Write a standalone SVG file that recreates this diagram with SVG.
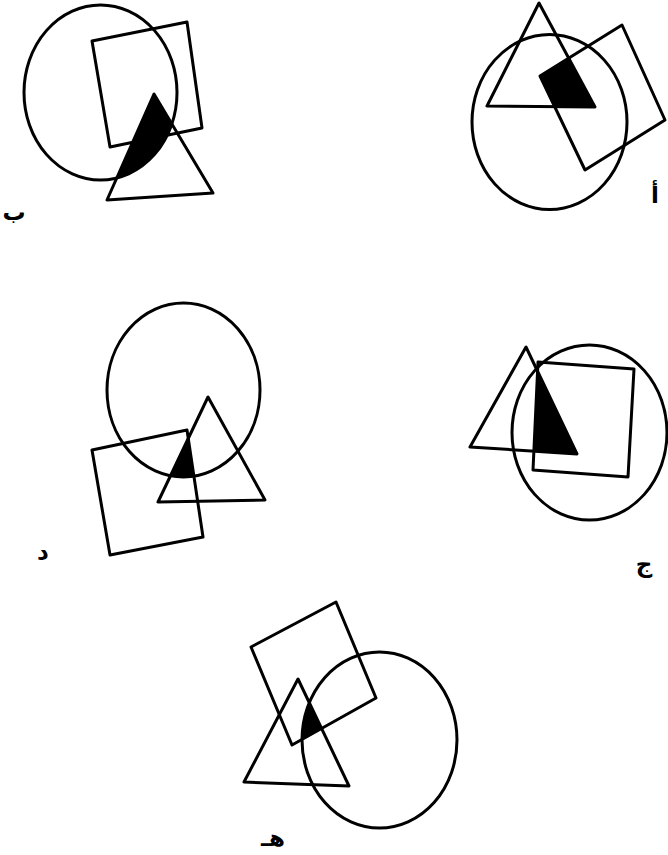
<svg xmlns="http://www.w3.org/2000/svg" width="668" height="855" viewBox="0 0 668 855">
<style>
.s{fill:none;stroke:#000;stroke-width:3;stroke-linejoin:round}
.f{fill:#000;stroke:none}
.l{font-family:"DejaVu Sans","Noto Sans",sans-serif;font-size:23px;font-weight:bold;fill:#000;text-anchor:middle}
</style>
<defs>
<clipPath id="a-sq"><polygon points="540,76 622,25 665,120 585,170"/></clipPath>
<clipPath id="a-ci"><ellipse cx="549.5" cy="122" rx="77.5" ry="87.5"/></clipPath>
<clipPath id="b-ci"><ellipse cx="100.5" cy="92.5" rx="76.5" ry="87.5"/></clipPath>
<clipPath id="c-sq"><polygon points="538,362 634,369 628,477 533,470"/></clipPath>
<clipPath id="c-ci"><ellipse cx="589.5" cy="432.5" rx="77.5" ry="87.5"/></clipPath>
<clipPath id="d-sq"><polygon points="92,450 187,430 203,537 110,555"/></clipPath>
<clipPath id="d-ci"><ellipse cx="183.5" cy="390" rx="76.5" ry="87"/></clipPath>
<clipPath id="e-sq"><polygon points="251,647 336,602 376,698 292,745"/></clipPath>
<clipPath id="e-ci"><ellipse cx="379.5" cy="740" rx="77.5" ry="88"/></clipPath>
</defs>
<rect width="668" height="855" fill="#fff"/>

<g id="fig-a">
<g clip-path="url(#a-ci)"><polygon class="f" clip-path="url(#a-sq)" points="539,3 487,106 595,107"/></g>
<ellipse class="s" cx="549.5" cy="122" rx="77.5" ry="87.5"/>
<polygon class="s" points="539,3 487,106 595,107"/>
<polygon class="s" points="540,76 622,25 665,120 585,170"/>
<text class="l" x="655" y="203">أ</text>
</g>

<g id="fig-b">
<polygon class="f" clip-path="url(#b-ci)" points="154,94 107,200 213,193"/>
<ellipse class="s" cx="100.5" cy="92.5" rx="76.5" ry="87.5"/>
<polygon class="s" points="92,41 187,22 202,128 110,147"/>
<polygon class="s" points="154,94 107,200 213,193"/>
<text class="l" x="14" y="220">ب</text>
</g>

<g id="fig-c">
<g clip-path="url(#c-ci)"><polygon class="f" clip-path="url(#c-sq)" points="526,347 470,447 577,454"/></g>
<ellipse class="s" cx="589.5" cy="432.5" rx="77.5" ry="87.5"/>
<polygon class="s" points="526,347 470,447 577,454"/>
<polygon class="s" points="538,362 634,369 628,477 533,470"/>
<text class="l" x="644" y="572">ج</text>
</g>

<g id="fig-d">
<g clip-path="url(#d-ci)"><polygon class="f" clip-path="url(#d-sq)" points="208,397 158,502 265,500"/></g>
<ellipse class="s" cx="183.5" cy="390" rx="76.5" ry="87"/>
<polygon class="s" points="208,397 158,502 265,500"/>
<polygon class="s" points="92,450 187,430 203,537 110,555"/>
<text class="l" x="43" y="560">د</text>
</g>

<g id="fig-e">
<g clip-path="url(#e-ci)"><polygon class="f" clip-path="url(#e-sq)" points="298,679 244,782 349,786"/></g>
<ellipse class="s" cx="379.5" cy="740" rx="77.5" ry="88"/>
<polygon class="s" points="298,679 244,782 349,786"/>
<polygon class="s" points="251,647 336,602 376,698 292,745"/>
<text class="l" x="273" y="846">هـ</text>
</g>
</svg>
